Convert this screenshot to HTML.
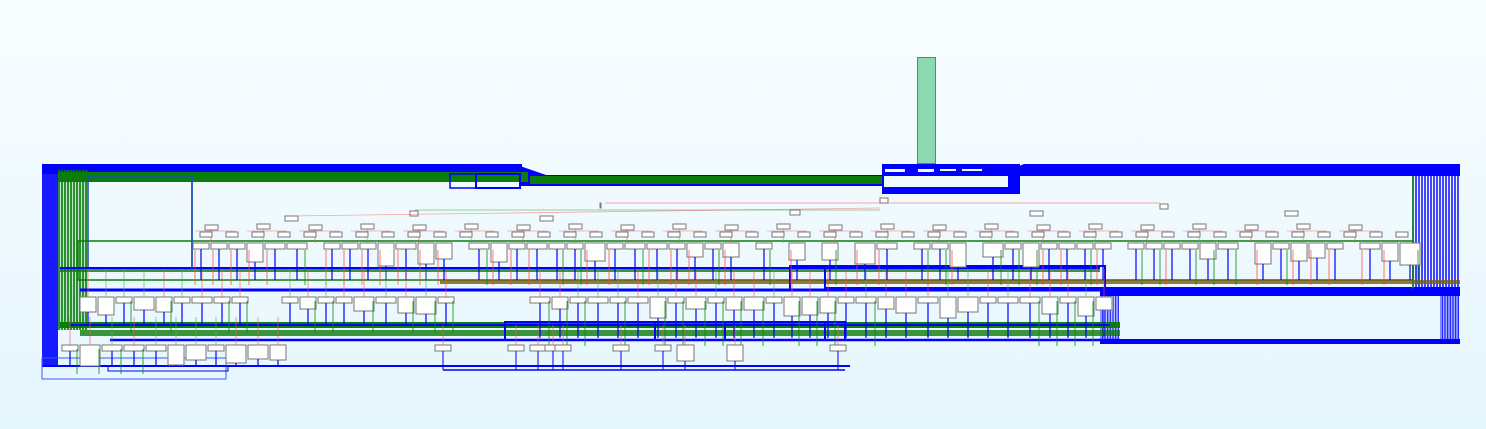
<!DOCTYPE html>
<html><head><meta charset="utf-8"><style>
html,body{margin:0;padding:0;width:1486px;height:429px;overflow:hidden;background:linear-gradient(#f8fdff,#e6f6fd);}
svg{display:block}
</style></head><body>
<svg id="s" width="1486" height="429" xmlns="http://www.w3.org/2000/svg">
<rect x="917.5" y="57.5" width="18" height="106" fill="#8cd8b0" stroke="#777"/>
<rect x="42" y="164" width="16" height="202" fill="#0000ff" opacity="0.9"/>
<rect x="42" y="164" width="480" height="10" fill="#0000ff"/>
<path d="M520 166 L546 175 L882 175 L882 186 L520 186 Z" fill="#0000ff"/>
<g id="gl"></g>
<rect x="58" y="172" width="470" height="10" fill="#0a7d0a"/>
<rect x="530" y="176" width="352" height="8" fill="#0a7d0a"/>
<rect x="88" y="176" width="104" height="92" fill="none" stroke="#1a50b0" stroke-width="1.5"/>
<rect x="450" y="174" width="70" height="14" fill="none" stroke="#0000ff" stroke-width="1.5"/>
<rect x="476" y="174" width="44" height="14" fill="none" stroke="#0000ff" stroke-width="2"/>
<rect x="882" y="164" width="138" height="30" fill="#0000ff"/>
<rect x="884" y="176" width="124" height="11" fill="#f0fbff"/>
<rect x="885" y="169" width="20" height="3" fill="#f0fbff"/><rect x="918" y="169" width="16" height="3" fill="#f0fbff"/><rect x="940" y="169" width="16" height="2" fill="#f0fbff"/><rect x="962" y="169" width="20" height="2" fill="#f0fbff"/>
<path d="M1010 170 L1024 164 L1460 164 L1460 176 L1020 176 Z" fill="#0000ff"/>
<rect x="1100" y="287" width="360" height="9" fill="#0000ff"/>
<rect x="1100" y="339" width="360" height="5" fill="#0000ff"/>
<g id="g"></g>
</svg>
<script>
var g=document.getElementById('g'),h='';
function L(x1,y1,x2,y2,c,w,o){h+='<line x1="'+x1+'" y1="'+y1+'" x2="'+x2+'" y2="'+y2+'" stroke="'+c+'" stroke-width="'+(w||1)+'" opacity="'+(o||1)+'"/>';}
function R(x,y,w,hh){h+='<rect x="'+x+'" y="'+y+'" width="'+w+'" height="'+hh+'" fill="#fff" stroke="#777"/>';}
function B(x,y,w,hh,c,sw){h+='<rect x="'+x+'" y="'+y+'" width="'+w+'" height="'+hh+'" fill="none" stroke="'+c+'" stroke-width="'+sw+'"/>';}
var rnd=(function(){var s=7;return function(){s=(s*9301+49297)%233280;return s/233280;}})();
// left green stripes
var gl='';for(var i=0;i<10;i++){gl+='<line x1="'+(59+i*3)+'" y1="170" x2="'+(59+i*3)+'" y2="330" stroke="#0a7d0a" stroke-width="2.2" opacity="0.85"/>';}
document.getElementById('gl').innerHTML=gl;
// right ladder
for(var i=0;i<16;i++){L(1413+i*3,170,1413+i*3,294,'#0000ff',1.6,0.9);}
for(var i=0;i<12;i++){L(1101+i*1.6,292,1101+i*1.6,342,'#0000ff',0.8);L(1441+i*1.6,296,1441+i*1.6,342,'#0000ff',0.9);}
L(1413,176,1413,290,'#0a8a0a',1.5);
B(78,241,1335,39,'#0a7d0a',1.5);
h+='<rect x="60" y="268" width="1040" height="4" fill="#0a7d0a" opacity="0.8"/>';
h+='<rect x="440" y="280" width="1020" height="4" fill="#7a5a10" opacity="0.8"/>';
L(60,268,1100,268,'#0000ff',2);
L(80,290,1460,290,'#0000ff',3);
h+='<rect x="60" y="322" width="1060" height="6" fill="#0a7d0a"/>';
L(70,325,1110,325,'#0000ff',2);
h+='<rect x="80" y="330" width="1040" height="6" fill="#0a7d0a" opacity="0.8"/>';
L(110,340,1120,340,'#0000ff',2.5);
L(42,366,850,366,'#0000ff',2);
B(42,358,184,21,'#3a5aff',1);
B(108,366,120,5,'#0000ff',1);
B(505,322,340,18,'#0000ff',2);B(655,322,170,18,'#0000ff',2);B(725,322,120,18,'#0000ff',2);
B(790,266,315,24,'#0000ff',2);B(825,266,280,22,'#0000ff',2);
L(192,176,192,268,'#1a50b0',1.5);
var lv=[[600,203,1,0],[410,211,8,0],[880,198,8,0],[1160,204,8,0],[285,216,13,1],[540,216,13,1],[790,210,10,1],[1030,211,13,1],[1285,211,13,1]];
lv.forEach(function(a){R(a[0],a[1],a[2]?a[2]:10,5);});
L(415,210,880,210,'#2a9a2a',0.8,0.6);L(605,203,1160,203,'#ff4040',0.8,0.6);
L(290,216,880,208,'#ff5050',0.8,0.5);
for(var x=205;x<1400;x+=52){var y=224+((x/52|0)%2)*1;R(x,y,13,5);L(x+6,229,x+6,243,(x/52|0)%2?'#f06060':'#50b050',1,0.6);L(x-10,231,x+30,231,'#ff7070',1,0.5);}
for(var x=200;x<1400;x+=26){R(x,232,12,5);}
for(var x=193;x<1413;){var w=(rnd()<0.3)?20:16,hh=(rnd()<0.35)?(14+rnd()*12|0):6;R(x,243,w,hh);
L(x+w/2,243+hh,x+w/2,280,'#0000ff',1.2);if(rnd()<0.5)L(x+2,250,x+2,285,'#ff4040',1,0.7);else L(x+w-2,250,x+w-2,285,'#0a8a0a',1,0.8);x+=w+2+(rnd()<0.15?15:0);}
function row(x0,x1,y,ybot){for(var x=x0;x<x1;){var w=(rnd()<0.35)?20:16,hh=(rnd()<0.4)?(12+rnd()*10|0):6;R(x,y,w,hh);
L(x+w/2,y+hh,x+w/2,ybot,'#0000ff',1.2);L(x+w/2,y-28,x+w/2,y,rnd()<0.5?'#ff5050':'#50b050',1,0.6);if(rnd()<0.5)L(x+w-1,y+4,x+w-1,ybot+8,'#0a8a0a',1,0.8);x+=w+2;}}
row(80,240,297,325);row(282,440,297,325);row(530,1100,297,338);
row(62,280,345,366);
[435,508,530,545,555,613,655,677,727,830].forEach(function(x){var hh=(x==677||x==727)?16:6;R(x,345,x==677?17:16,hh);L(x+8,345+hh,x+8,370,'#0000ff',1);L(x+8,325,x+8,345,'#ff5050',1,0.6);});
L(443,370,845,370,'#0000ff',1.5);
g.innerHTML=h;
</script>
</body></html>
